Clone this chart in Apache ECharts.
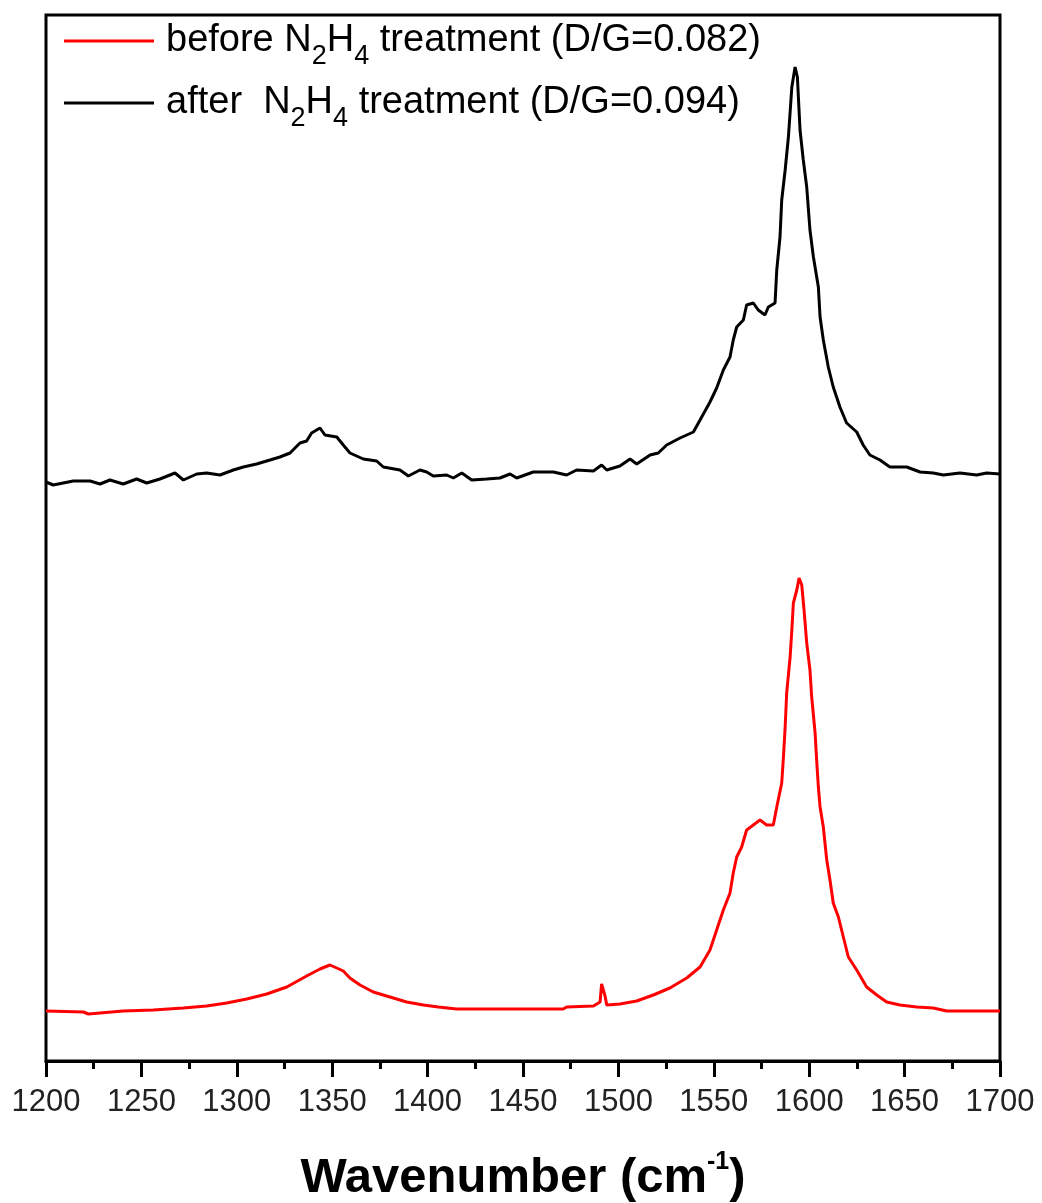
<!DOCTYPE html>
<html>
<head>
<meta charset="utf-8">
<title>Raman spectra before / after N2H4 treatment</title>
<script src="https://cdn.jsdelivr.net/npm/echarts@6/dist/echarts.min.js"></script>
<style>
  html, body { margin: 0; padding: 0; background: #fff; }
  #chart { width: 1042px; height: 1203px; }
</style>
</head>
<body>
<div id="chart"></div>
<script>
// x axis ticks (cm-1)
const xTicks = [1200, 1250, 1300, 1350, 1400, 1450, 1500, 1550, 1600, 1650, 1700];

// before N2H4 treatment (red), intensity in arbitrary units
const beforeX = [1200, 1219.6, 1222.2, 1240.5, 1256.2, 1272.0, 1284.2, 1294.7, 1305.2, 1315.7, 1326.2, 1336.6, 1343.6, 1348.8, 1352.4, 1355.8, 1359.3, 1364.6, 1371.5, 1380.3, 1389.0, 1397.8, 1405.6, 1415.2, 1431.0, 1448.4, 1471.1, 1472.9, 1486.9, 1490.4, 1491.2, 1493.0, 1493.9, 1500.8, 1509.6, 1518.3, 1527.0, 1535.8, 1542.8, 1548.0, 1551.5, 1555.0, 1558.5, 1560.2, 1562.0, 1564.6, 1567.2, 1570.7, 1574.2, 1577.7, 1581.2, 1583.0, 1585.6, 1586.5, 1587.4, 1588.2, 1590.0, 1590.9, 1591.7, 1593.5, 1594.7, 1596.1, 1597.3, 1598.7, 1600.4, 1601.3, 1603.1, 1603.9, 1604.8, 1605.7, 1607.4, 1609.2, 1610.9, 1612.6, 1615.3, 1617.9, 1620.5, 1624.9, 1630.1, 1635.4, 1640.6, 1647.6, 1656.3, 1665.0, 1672.1, 1682.5, 1700];
const beforeY = [50, 49, 47, 50, 51, 53, 55, 58, 62, 67, 74, 85, 92, 96, 93, 90, 83, 76, 69, 64, 59, 56, 54, 52, 52, 52, 52, 54, 55, 59, 77, 65, 56, 57, 60, 66, 73, 83, 94, 111, 131, 151, 168, 188, 204, 214, 231, 236, 241, 236, 236, 254, 278, 304, 334, 368, 404, 431, 458, 471, 483, 476, 451, 418, 391, 364, 328, 301, 274, 254, 234, 201, 181, 158, 144, 124, 104, 91, 74, 66, 59, 56, 54, 53, 50, 50, 50];

// after N2H4 treatment (black)
const afterX = [1200, 1203.8, 1214.3, 1223.1, 1228.3, 1233.5, 1240.5, 1247.5, 1252.8, 1259.7, 1267.6, 1272.0, 1279.0, 1284.2, 1291.2, 1298.2, 1303.4, 1310.4, 1317.4, 1322.6, 1327.9, 1333.1, 1336.6, 1339.2, 1343.6, 1346.2, 1352.4, 1355.8, 1359.3, 1366.3, 1373.3, 1376.8, 1385.5, 1389.9, 1396.0, 1399.5, 1403.0, 1410.0, 1413.5, 1417.9, 1423.1, 1431.0, 1437.9, 1443.2, 1446.7, 1455.4, 1465.9, 1472.9, 1478.1, 1486.9, 1491.2, 1493.9, 1500.8, 1506.1, 1509.6, 1516.6, 1520.9, 1525.3, 1532.3, 1539.3, 1542.8, 1548.0, 1551.5, 1555.0, 1558.5, 1560.2, 1562.0, 1565.5, 1567.2, 1570.7, 1573.3, 1576.8, 1578.6, 1582.1, 1583.0, 1584.7, 1585.6, 1587.4, 1589.1, 1590.9, 1592.6, 1593.8, 1595.2, 1596.9, 1598.7, 1600.4, 1602.2, 1604.8, 1605.7, 1607.4, 1610.0, 1612.6, 1616.1, 1619.6, 1624.9, 1628.3, 1631.8, 1637.1, 1642.3, 1651.1, 1658.1, 1665.0, 1670.3, 1679.0, 1687.8, 1693.0, 1700];
const afterY = [579, 576, 580, 580, 577, 581, 577, 582, 578, 582, 588, 581, 587, 588, 586, 591, 594, 597, 601, 604, 608, 618, 620, 628, 633, 626, 624, 616, 608, 602, 600, 594, 591, 585, 591, 589, 585, 586, 583, 588, 581, 582, 583, 587, 583, 589, 589, 586, 591, 590, 596, 591, 595, 602, 597, 606, 608, 616, 623, 629, 641, 659, 673, 691, 704, 721, 734, 741, 756, 758, 751, 746, 754, 758, 791, 824, 861, 891, 924, 974, 994, 984, 931, 901, 874, 831, 804, 774, 744, 721, 694, 674, 654, 638, 629, 616, 606, 601, 594, 594, 589, 588, 586, 588, 586, 588, 587];

const seriesNames = ['before', 'after'];
const legendLabels = {
  before: '{g|}{n|before N}{s|2}{n|H}{s|4}{n| treatment (D/G=0.082)}',
  after: '{g|}{n|after  N}{s|2}{n|H}{s|4}{n| treatment (D/G=0.094)}'
};

function pairs(xs, ys) {
  return xs.map((x, i) => [x, ys[i]]);
}

const chart = echarts.init(document.getElementById('chart'));
chart.setOption({
  animation: false,
  backgroundColor: '#fff',
  grid: {
    left: 46, right: 42, top: 15, bottom: 142,
    outerBoundsMode: 'none',
    containLabel: false,
    show: true, borderColor: '#000', borderWidth: 3
  },
  legend: {
    data: seriesNames,
    orient: 'vertical',
    left: 59,
    top: 17,
    icon: 'rect',
    itemWidth: 90,
    itemHeight: 3,
    itemGap: 14,
    formatter: name => legendLabels[name],
    textStyle: {
      color: '#000',
      fontFamily: 'Liberation Sans',
      rich: {
        g: { width: 7 },
        n: { fontSize: 38, lineHeight: 42, fontFamily: 'Liberation Sans', color: '#000' },
        s: { fontSize: 27, lineHeight: 58, fontFamily: 'Liberation Sans', color: '#000',
             verticalAlign: 'bottom' }
      }
    }
  },
  xAxis: {
    type: 'value',
    min: 1200,
    max: 1700,
    interval: 50,
    name: '{t|Wavenumber (cm}{p|-1}{t|)}',
    nameLocation: 'middle',
    nameGap: 89,
    nameTextStyle: {
      rich: {
        t: { fontSize: 49, fontWeight: 'bold', fontFamily: 'Liberation Sans', color: '#000', lineHeight: 56 },
        p: { fontSize: 25, fontWeight: 'bold', fontFamily: 'Liberation Sans', color: '#000',
             verticalAlign: 'top', lineHeight: 24 }
      }
    },
    axisLine: { show: true, onZero: false, lineStyle: { color: '#000', width: 3 } },
    axisTick: { show: true, inside: false, length: 16, lineStyle: { color: '#000', width: 3 } },
    minorTick: { show: true, splitNumber: 2, length: 8, lineStyle: { color: '#000', width: 3 } },
    splitLine: { show: false },
    axisLabel: {
      margin: 26,
      fontSize: 31,
      fontFamily: 'Liberation Sans',
      color: '#222',
      customValues: xTicks,
      formatter: v => String(v)
    }
  },
  yAxis: {
    type: 'value',
    min: 0,
    max: 1046,
    axisLine: { show: false },
    axisTick: { show: false },
    axisLabel: { show: false },
    splitLine: { show: false }
  },
  series: [
    {
      name: 'before',
      type: 'line',
      symbol: 'none',
      color: '#ff0000',
      lineStyle: { width: 3, color: '#ff0000' },
      data: pairs(beforeX, beforeY)
    },
    {
      name: 'after',
      type: 'line',
      symbol: 'none',
      color: '#000000',
      lineStyle: { width: 3, color: '#000000' },
      data: pairs(afterX, afterY)
    }
  ]
});
</script>
</body>
</html>
